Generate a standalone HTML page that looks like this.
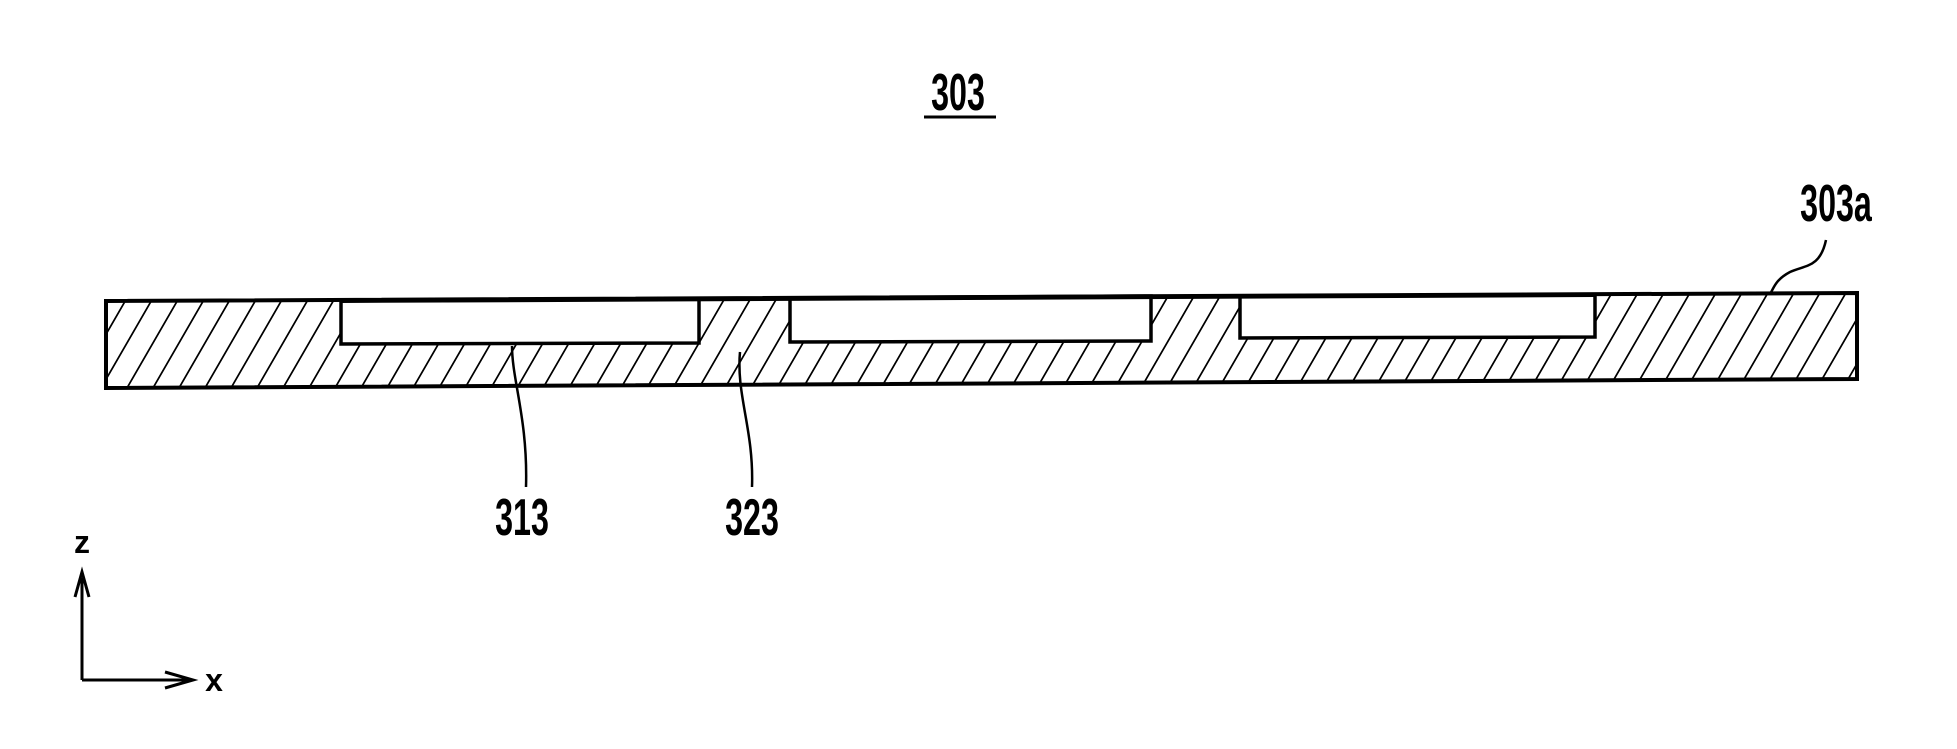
<!DOCTYPE html>
<html><head><meta charset="utf-8"><style>
html,body{margin:0;padding:0;background:#fff;}
svg{display:block;}
text{font-family:"Liberation Sans",sans-serif;fill:#000;}
</style></head><body>
<svg width="1957" height="749" viewBox="0 0 1957 749" xmlns="http://www.w3.org/2000/svg">
<defs>
<pattern id="h" patternUnits="userSpaceOnUse" width="26" height="60" patternTransform="skewX(-30)">
<line x1="13" y1="-5" x2="13" y2="65" stroke="#000" stroke-width="2"/>
</pattern>
</defs>
<polygon points="106,301 1857,293 1857,379 106,388" fill="url(#h)" stroke="#000" stroke-width="4"/>
<polygon points="341,300 699,299 699,343 341,344" fill="#fff" stroke="#000" stroke-width="3.5"/>
<polygon points="790,298 1151,296 1151,341 790,342" fill="#fff" stroke="#000" stroke-width="3.5"/>
<polygon points="1240,296 1595,295 1595,337 1240,338" fill="#fff" stroke="#000" stroke-width="3.5"/>
<line x1="341" y1="301" x2="1595" y2="295" stroke="#000" stroke-width="4"/>
<g transform="translate(958,110) scale(0.62,1)"><text x="0" y="0" font-size="52" font-weight="bold" text-anchor="middle">303</text></g>
<line x1="924" y1="117" x2="996" y2="117" stroke="#000" stroke-width="3"/>
<g transform="translate(1836,221) scale(0.62,1)"><text x="0" y="0" font-size="52" font-weight="bold" text-anchor="middle">303a</text></g>
<g transform="translate(522,535) scale(0.62,1)"><text x="0" y="0" font-size="52" font-weight="bold" text-anchor="middle">313</text></g>
<g transform="translate(752,535) scale(0.62,1)"><text x="0" y="0" font-size="52" font-weight="bold" text-anchor="middle">323</text></g>
<path d="M512,346 C512,380 528,420 526,487" fill="none" stroke="#000" stroke-width="2.5"/>
<path d="M740,352 C736,395 754,430 752,487" fill="none" stroke="#000" stroke-width="2.5"/>
<path d="M1826,240 C1820,268 1805,265 1790,272 C1775,280 1774,288 1770,294" fill="none" stroke="#000" stroke-width="2.5"/>
<line x1="82" y1="680" x2="82" y2="578" stroke="#000" stroke-width="3"/>
<line x1="82" y1="680" x2="190" y2="680" stroke="#000" stroke-width="3"/>
<path d="M75,597 L82,572 L89,597" fill="none" stroke="#000" stroke-width="3"/>
<path d="M165,672 L193,680 L165,688" fill="none" stroke="#000" stroke-width="3"/>
<text x="82" y="553" font-size="32" font-weight="bold" text-anchor="middle">z</text>
<text x="214" y="691" font-size="32" font-weight="bold" text-anchor="middle">x</text>
</svg>
</body></html>
